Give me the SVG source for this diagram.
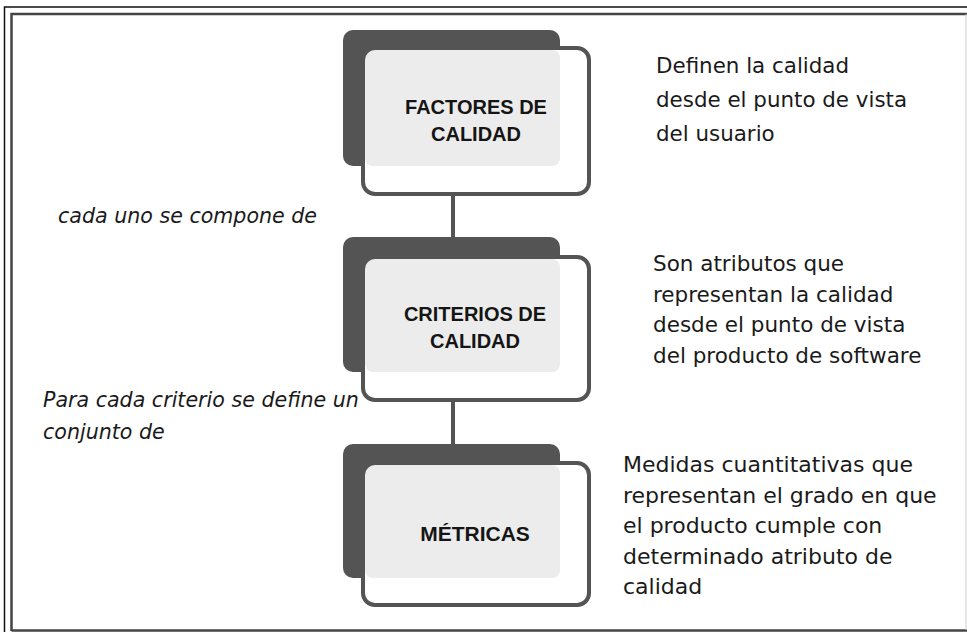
<svg xmlns="http://www.w3.org/2000/svg" width="967" height="632" viewBox="0 0 967 632">
<style>
.back{fill:#545454}
.front{fill:#ffffff}
.light{fill:#ececec}
.frontline{fill:none;stroke:#545454;stroke-width:4}
.lbl{font-family:"Liberation Sans",Arial,sans-serif;font-weight:bold;font-size:20px;fill:#151515;text-anchor:middle}
.desc{font-family:"DejaVu Sans","Liberation Sans",sans-serif;fill:#1a1a1a}
.ital{font-family:"DejaVu Sans","Liberation Sans",sans-serif;font-style:italic;font-size:20.6px;fill:#1a1a1a}
.conn{stroke:#545454;stroke-width:4;fill:none}
.faint{stroke:#e2e2e2;stroke-width:3;fill:none}
</style>
<rect width="967" height="632" fill="#ffffff"/>
<g id="frame" fill="none">
<path d="M4.5 632 V7 H967" stroke="#111" stroke-width="1.5"/>
<path d="M11.5 631 V14 H967" stroke="#444" stroke-width="2.5"/>
<path d="M11.5 630.5 H967" stroke="#444" stroke-width="2.5"/>
<path d="M966 14 V630" stroke="#cfcfcf" stroke-width="1"/>
</g>
<g id="connectors">
<line class="faint" x1="453" y1="167" x2="453" y2="192"/>
<line class="conn" x1="453" y1="196" x2="453" y2="238"/>
<line class="faint" x1="453" y1="373" x2="453" y2="398"/>
<line class="conn" x1="453" y1="402" x2="453" y2="445"/>
</g>
<g id="factores">
<rect class="back" x="343" y="30" width="217" height="136" rx="10"/>
<rect class="front" x="363" y="48" width="226" height="146" rx="12"/>
<rect class="light" x="365" y="50" width="195" height="116" rx="8"/>
<rect class="frontline" x="363" y="48" width="226" height="146" rx="12"/>
<text class="lbl" x="476" y="114">FACTORES DE</text>
<text class="lbl" x="476" y="141">CALIDAD</text>
</g>
<g id="criterios">
<rect class="back" x="343" y="237" width="217" height="135" rx="10"/>
<rect class="front" x="363" y="257" width="226" height="143" rx="12"/>
<rect class="light" x="365" y="259" width="195" height="113" rx="8"/>
<rect class="frontline" x="363" y="257" width="226" height="143" rx="12"/>
<text class="lbl" x="475" y="321">CRITERIOS DE</text>
<text class="lbl" x="475" y="348">CALIDAD</text>
</g>
<g id="metricas">
<rect class="back" x="343" y="444" width="217" height="134" rx="10"/>
<rect class="front" x="363" y="463" width="226" height="142" rx="12"/>
<rect class="light" x="365" y="465" width="195" height="113" rx="8"/>
<rect class="frontline" x="363" y="463" width="226" height="142" rx="12"/>
<text class="lbl" x="475" y="541" style="font-size:21px">MÉTRICAS</text>
</g>
<g id="desc-factores" class="desc" font-size="21.4">
<text x="656" y="73">Definen la calidad</text>
<text x="656" y="107">desde el punto de vista</text>
<text x="656" y="141">del usuario</text>
</g>
<g id="desc-criterios" class="desc" font-size="21.5">
<text x="653" y="271">Son atributos que</text>
<text x="653" y="301.5">representan la calidad</text>
<text x="653" y="332">desde el punto de vista</text>
<text x="653" y="362.5">del producto de software</text>
</g>
<g id="desc-metricas" class="desc" font-size="22">
<text x="623" y="472">Medidas cuantitativas que</text>
<text x="623" y="502.5">representan el grado en que</text>
<text x="623" y="533">el producto cumple con</text>
<text x="623" y="563.5">determinado atributo de</text>
<text x="623" y="594">calidad</text>
</g>
<g id="label-compone">
<text class="ital" x="58" y="223">cada uno se compone de</text>
</g>
<g id="label-conjunto">
<text class="ital" x="43" y="407">Para cada criterio se define un</text>
<text class="ital" x="43" y="439">conjunto de</text>
</g>
</svg>
